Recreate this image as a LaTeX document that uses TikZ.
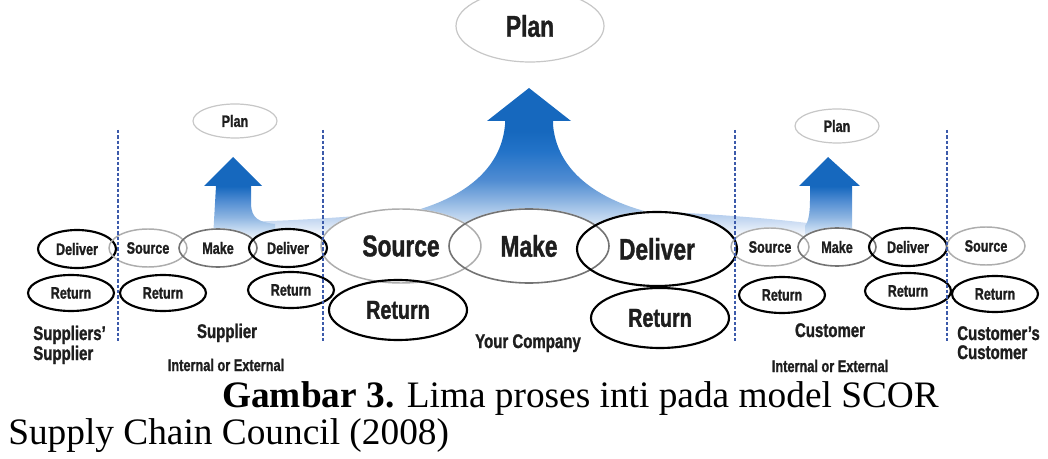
\documentclass[tikz,border=0pt]{standalone}
\usepackage{fontspec}
\setmainfont{Liberation Serif}
\newfontfamily\scorfont[FakeStretch=0.76, BoldFeatures={FakeBold=1.2}]{Liberation Sans}
\usetikzlibrary{
    shapes.geometric,
    calc,
    positioning
}
\pgfdeclarelayer{arrows}
\pgfdeclarelayer{fills}
\pgfsetlayers{arrows,fills,main}

\definecolor{scorblue}{RGB}{22,104,190}
\definecolor{fadeE}{RGB}{35,115,200}
\definecolor{fadeD}{RGB}{80,140,210}
\definecolor{fadeC}{RGB}{140,180,225}
\definecolor{fadeB}{RGB}{185,210,238}
\definecolor{fadeA}{RGB}{235,242,250}
\definecolor{bandtop}{RGB}{170,198,235}
\definecolor{dashblue}{RGB}{60,90,170}
\definecolor{inkgray}{RGB}{30,30,30}

% vertical fades (25bp = bottom of the path, 75bp = top)
\pgfdeclareverticalshading{bigfade}{100bp}{color(0bp)=(white); color(25bp)=(fadeA);
    color(31bp)=(fadeB); color(36bp)=(fadeC); color(43bp)=(fadeD); color(53bp)=(fadeE);
    color(60bp)=(scorblue); color(100bp)=(scorblue)}
\pgfdeclareverticalshading{smallfade}{100bp}{color(0bp)=(white); color(25bp)=(fadeA);
    color(32bp)=(fadeB); color(38bp)=(fadeC); color(48bp)=(fadeD); color(57bp)=(scorblue);
    color(100bp)=(scorblue)}

\begin{document}
\begin{tikzpicture}[
        x=0.75pt, y=-0.75pt,
        proc/.style={
            ellipse,
            inner sep=0pt,
            minimum width=58.5pt,
            minimum height=28.5pt,
            text=inkgray,
            font=\scorfont\bfseries\fontsize{12.4}{14}\selectfont
        },
        retproc/.style={proc, minimum width=64.5pt, minimum height=27pt},
        bigproc/.style={
            proc,
            minimum width=120pt,
            minimum height=55.5pt,
            font=\scorfont\bfseries\fontsize{22.5}{26}\selectfont
        },
        bigret/.style={
            proc,
            minimum width=103.5pt,
            minimum height=45pt,
            font=\scorfont\bfseries\fontsize{19.5}{22}\selectfont
        },
        planproc/.style={proc, minimum width=63pt, minimum height=25.5pt},
        edgeblack/.style={draw=black, line width=1.6pt},
        edgemid/.style={draw=black!55, line width=1.2pt},
        edgelight/.style={draw=black!32, line width=1.1pt},
        edgepale/.style={draw=black!22, line width=0.9pt},
        tier/.style={
            inner sep=0pt,
            text=inkgray,
            font=\scorfont\bfseries\fontsize{14.8}{17}\selectfont
        },
        subtier/.style={tier, font=\scorfont\bfseries\fontsize{12.6}{15}\selectfont},
        divider/.style={draw=dashblue, line width=1.1pt, dash pattern=on 2.5pt off 1.5pt}
    ]
    \useasboundingbox (0,0) rectangle (1048,459);

    % blue arrows towards the plan processes
    \begin{pgfonlayer}{arrows}
        \path[top color=bandtop, bottom color=white]
            (240,222) .. controls (320,220) and (380,214) .. (420,211) -- (640,211)
            .. controls (700,213) and (770,218) .. (815,224) -- (815,238) -- (240,238) -- cycle;
        \path[shading=bigfade]
            (529,88) -- (571,121) -- (553,121) -- (553,125)
            .. controls (558,180) and (613,203) .. (648,212) -- (648,232) -- (410,232) -- (410,212)
            .. controls (445,203) and (500,180) .. (505,125) -- (505,121) -- (487,121) -- cycle;
        \path[shading=smallfade]
            (233,157) -- (262,186) -- (251,186) -- (251,205)
            .. controls (252,218) and (258,222) .. (275,224) -- (275,238) -- (213,238)
            -- (216,186) -- (204,186) -- cycle;
        \path[shading=smallfade]
            (828,157) -- (860,186) -- (852,186) -- (852,238) -- (805,238) -- (805,226)
            .. controls (808,222) and (810,215) .. (810,200) -- (810,186) -- (799,186) -- cycle;
    \end{pgfonlayer}

    % suppliers' supplier
    \node[proc, edgeblack] (ssDeliver) at (77,249) {Deliver};
    \node[retproc, edgeblack] (ssReturn) at (71,293) {Return};

    % supplier
    \node[planproc, edgepale] (supPlan) at (235,121) {Plan};
    \node[proc, edgelight] (supSource) at (148,248) {Source};
    \node[proc, edgemid] (supMake) at (218,248) {Make};
    \node[proc, edgeblack] (supDeliver) at (288,248) {Deliver};
    \node[retproc, edgeblack] (supReturnA) at (163,293) {Return};
    \node[retproc, edgeblack] (supReturnB) at (291,290) {Return};

    % your company
    \node[bigproc, edgepale, minimum width=111pt, minimum height=54pt] (coPlan) at (530,26) {Plan};
    \node[bigproc, edgelight] (coSource) at (401,246) {Source};
    \node[bigproc, edgemid] (coMake) at (529,246) {Make};
    \node[bigproc, edgeblack] (coDeliver) at (657,249) {Deliver};
    \node[bigret, edgeblack] (coReturnA) at (398,310) {Return};
    \node[bigret, edgeblack] (coReturnB) at (660,318) {Return};

    % customer
    \node[planproc, edgepale] (cuPlan) at (837,126) {Plan};
    \node[proc, edgelight] (cuSource) at (770,247) {Source};
    \node[proc, edgemid] (cuMake) at (837,247) {Make};
    \node[proc, edgeblack] (cuDeliver) at (908,247) {Deliver};
    \node[retproc, edgeblack] (cuReturnA) at (782,295) {Return};
    \node[retproc, edgeblack] (cuReturnB) at (908,291) {Return};

    % customer's customer
    \node[proc, edgelight] (ccSource) at (986,246) {Source};
    \node[retproc, edgeblack] (ccReturn) at (995,294) {Return};

    % white insides, under every outline
    \begin{pgfonlayer}{fills}
        \foreach \nd in {ssDeliver,ssReturn,supPlan,supSource,supMake,supDeliver,supReturnA,
                supReturnB,coPlan,coSource,coMake,coDeliver,coReturnA,coReturnB,cuPlan,
                cuSource,cuMake,cuDeliver,cuReturnA,cuReturnB,ccSource,ccReturn}
            \fill[white] let \p1=(\nd.center), \p2=(\nd.east), \p3=(\nd.north) in
                (\p1) ellipse ({\x2-\x1} and {\y3-\y1});
    \end{pgfonlayer}

    % tier dividers
    \foreach \xd in {118,323,735,947}
        \draw[divider] (\xd,130) -- (\xd,342);

    % tier names
    \node[tier, anchor=base west] (ssName) at (33,340) {Suppliers’};
    \node[tier, anchor=base west] (ssNameB) at (33,360) {Supplier};
    \node[tier, anchor=base] (supName) at (227,338) {Supplier};
    \node[subtier, anchor=base] (supKind) at (226,371) {Internal or External};
    \node[tier, anchor=base] (coName) at (528,348) {Your Company};
    \node[tier, anchor=base] (cuName) at (830,337) {Customer};
    \node[subtier, anchor=base] (cuKind) at (830,372) {Internal or External};
    \node[tier, anchor=base west] (ccName) at (957,340) {Customer’s};
    \node[tier, anchor=base west] (ccNameB) at (957,359) {Customer};

    % caption
    \node[anchor=base west, inner sep=0pt, font=\fontsize{28}{32}\selectfont] (caption)
        at (222,407) {\textbf{Gambar 3.} Lima proses inti pada model SCOR};
    \node[anchor=base west, inner sep=0pt, font=\fontsize{28}{32}\selectfont] (source)
        at (8,444) {Supply Chain Council (2008)};
\end{tikzpicture}
\end{document}
